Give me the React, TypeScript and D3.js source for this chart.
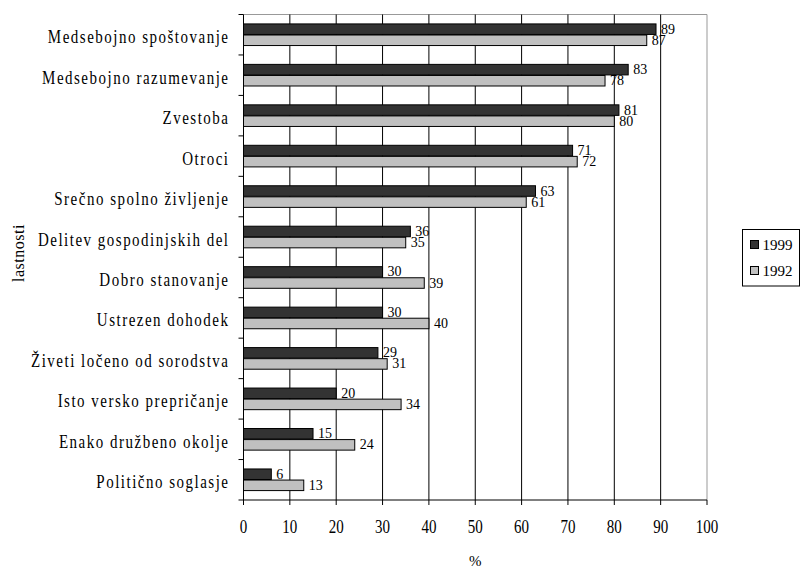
import React from 'react';
import * as d3 from 'd3';

const categories = [
  'Medsebojno spoštovanje',
  'Medsebojno razumevanje',
  'Zvestoba',
  'Otroci',
  'Srečno spolno življenje',
  'Delitev gospodinjskih del',
  'Dobro stanovanje',
  'Ustrezen dohodek',
  'Živeti ločeno od sorodstva',
  'Isto versko prepričanje',
  'Enako družbeno okolje',
  'Politično soglasje',
];
const values1999 = [89, 83, 81, 71, 63, 36, 30, 30, 29, 20, 15, 6];
const values1992 = [87, 78, 80, 72, 61, 35, 39, 40, 31, 34, 24, 13];
const xTicks = [0, 10, 20, 30, 40, 50, 60, 70, 80, 90, 100];
const seriesNames = ['1999', '1992'];

const width = 800;
const height = 571;
const margin = { top: 14.5, right: 93, bottom: 71, left: 243.5 };
const font = '"Liberation Serif", "Times New Roman", Times, serif';
const colors = ['#333333', '#c0c0c0'];
// the source text is drawn taller than it is wide
const stretch = 1.25;

const App: React.FC = () => {
  const x = d3
    .scaleLinear()
    .domain([0, 100])
    .range([margin.left, width - margin.right]);

  const y = d3
    .scaleBand<string>()
    .domain(categories)
    .range([margin.top, height - margin.bottom]);

  const inner = d3
    .scaleBand<string>()
    .domain(seriesNames)
    .range([0, y.bandwidth()])
    .paddingInner(0.05)
    .paddingOuter(0.85);

  const series = [values1999, values1992];
  const top = margin.top;
  const bottom = height - margin.bottom;
  const left = margin.left;
  const right = width - margin.right;
  const bandEdges = [...categories.map((c) => y(c) as number), bottom];

  return (
    <svg
      width={width}
      height={height}
      style={{ position: 'absolute', left: 0, top: 0, background: '#fff', fontFamily: font }}
    >
      {/* plot frame */}
      <line x1={left} x2={right} y1={top} y2={top} stroke="#999" />
      <line x1={right} x2={right} y1={top} y2={bottom} stroke="#999" />

      {/* gridlines */}
      {xTicks.slice(1, -1).map((t) => (
        <line key={t} x1={x(t)} x2={x(t)} y1={top} y2={bottom} stroke="#000" />
      ))}

      {/* bars */}
      {categories.map((c, i) => (
        <g key={c} transform={`translate(0,${y(c)})`}>
          {seriesNames.map((s, k) => {
            const v = series[k][i];
            const by = inner(s) as number;
            return (
              <g key={s}>
                <rect
                  x={x(0)}
                  y={by}
                  width={x(v) - x(0)}
                  height={inner.bandwidth()}
                  fill={colors[k]}
                  stroke="#000"
                  strokeWidth={1}
                />
                <text
                  x={x(v) + 5}
                  y={by + inner.bandwidth() / 2 + 4.5}
                  fontSize={14}
                  fill="#000"
                >
                  {v}
                </text>
              </g>
            );
          })}
        </g>
      ))}

      {/* axes */}
      <line x1={left} x2={left} y1={top} y2={bottom} stroke="#000" />
      <line x1={left} x2={right} y1={bottom} y2={bottom} stroke="#000" />
      {bandEdges.map((e, i) => (
        <line key={i} x1={left - 5} x2={left} y1={e} y2={e} stroke="#000" />
      ))}
      {xTicks.map((t) => (
        <g key={t}>
          <line x1={x(t)} x2={x(t)} y1={bottom} y2={bottom + 5} stroke="#000" />
          <text
            transform={`translate(${x(t)},${bottom + 32.5}) scale(1,${stretch})`}
            textAnchor="middle"
            fontSize={15}
          >
            {t}
          </text>
        </g>
      ))}

      {/* category labels */}
      {categories.map((c) => (
        <text
          key={c}
          transform={`translate(${left - 14},${(y(c) as number) + y.bandwidth() / 2 + 8.5}) scale(1,${stretch})`}
          textAnchor="end"
          fontSize={15}
          letterSpacing={1.5}
        >
          {c}
        </text>
      ))}

      {/* axis titles */}
      <text x={(left + right) / 2} y={566} textAnchor="middle" fontSize={15}>
        %
      </text>
      <text
        transform={`translate(24,253) rotate(-90)`}
        textAnchor="middle"
        fontSize={16}
        letterSpacing={0.5}
      >
        lastnosti
      </text>

      {/* legend */}
      <g transform="translate(742.5,229.5)">
        <rect width={57} height={56.5} fill="#fff" stroke="#000" />
        {seriesNames.map((s, k) => (
          <g key={s} transform={`translate(8,${11 + k * 26})`}>
            <rect width={8} height={8} fill={colors[k]} stroke="#000" />
            <text x={12} y={9.5} fontSize={15}>
              {s}
            </text>
          </g>
        ))}
      </g>
    </svg>
  );
};

export default App;
